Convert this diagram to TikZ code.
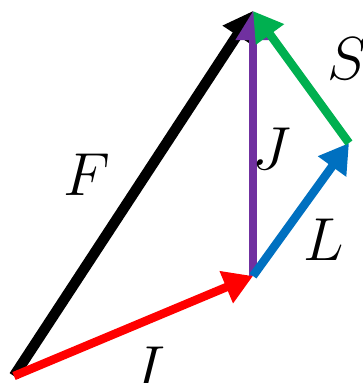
\documentclass[tikz,border=0pt]{standalone}
\usepackage{amsmath}
\usetikzlibrary{arrows.meta}
\definecolor{vred}{RGB}{255,0,0}
\definecolor{vblue}{RGB}{0,112,192}
\definecolor{vgreen}{RGB}{0,176,80}
\definecolor{vpurple}{RGB}{112,48,160}
\tikzset{
  vec/.style={line width=0.85mm, -{Triangle[length=2.9mm,width=3.3mm]}},
  lab/.style={font=\fontsize{16}{18}\selectfont}
}

\begin{document}
\begin{tikzpicture}[x=0.1mm,y=-0.1mm]
        % Rahmen
        \useasboundingbox (0,0) rectangle (363,383);

        % Eckpunkte
        \coordinate (O) at (14,376);
        \coordinate (P) at (253,276);
        \coordinate (Q) at (349,143);
        \coordinate (T) at (253,11);

        % Vektoren
        \draw[vec, line width=1.05mm] (O) -- (T); % F
        \draw[vec, vred] (O) -- (P); % I
        \draw[vec, vpurple] (P) -- (T); % J
        \draw[vec, vblue] (P) -- (Q); % L
        \draw[vec, vgreen] (Q) -- (T); % S

        % Beschriftung
        \node[lab] (labF) at (87,175) {$F$};
        \node[lab] (labI) at (150,368) {$I$};
        \node[lab] (labJ) at (272,149) {$J$};
        \node[lab] (labL) at (324,240) {$L$};
        \node[lab] (labS) at (348,59) {$S$};
    \end{tikzpicture}
\end{document}
